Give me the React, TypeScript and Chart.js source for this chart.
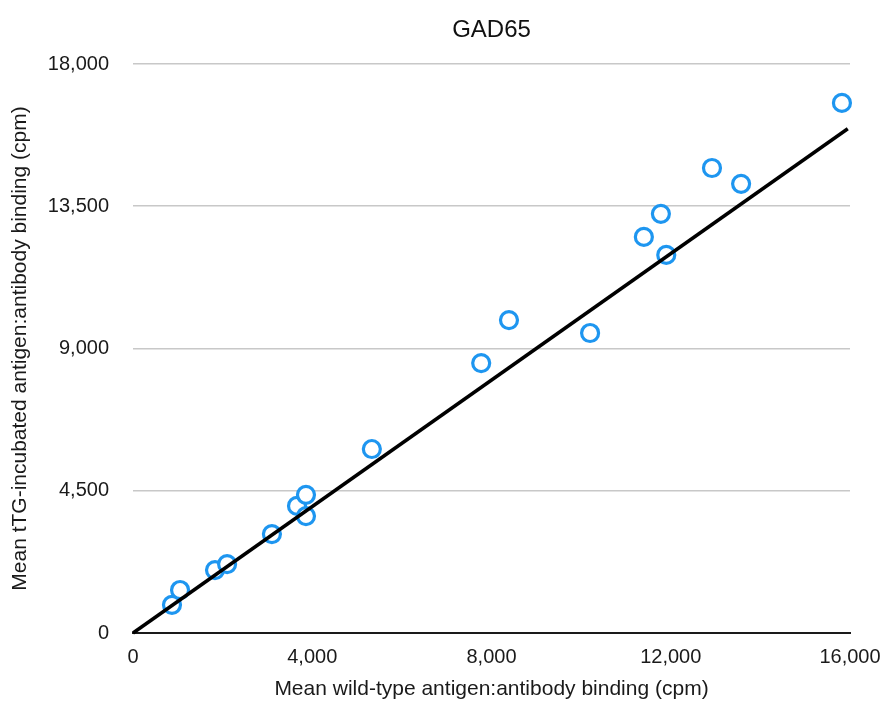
import React, { useEffect, useRef } from "react";
import { Chart, registerables } from "chart.js";

Chart.register(...registerables);

const title = "GAD65";
const xAxisTitle = "Mean wild-type antigen:antibody binding (cpm)";
const yAxisTitle = "Mean tTG-incubated antigen:antibody binding (cpm)";

const wildType = [870, 1050, 1830, 2100, 3100, 3660, 3860, 3860, 5330, 7770, 8390, 10200, 11400, 11780, 11900, 12920, 13570, 15820];
const tTGIncubated = [890, 1360, 1990, 2180, 3130, 4020, 4370, 3700, 5820, 8540, 9900, 9490, 12530, 13260, 11960, 14710, 14210, 16770];

const trendX = [0, 15950];
const trendY = [0, 15950];

const xTicks = [0, 4000, 8000, 12000, 16000];
const yTicks = [0, 4500, 9000, 13500, 18000];

const FONT = "'Liberation Sans', Arial, Helvetica, sans-serif";

export default function App() {
  const ref = useRef<HTMLCanvasElement | null>(null);

  useEffect(() => {
    if (!ref.current) return;
    const chart = new Chart(ref.current, {
      type: "scatter",
      data: {
        datasets: [
          {
            label: "Trend",
            data: trendX.map((x, i) => ({ x, y: trendY[i] })),
            showLine: true,
            borderColor: "#000000",
            borderWidth: 3.5,
            pointRadius: 0,
            fill: false,
            clip: false,
            order: 0,
          },
          {
            label: "GAD65",
            data: wildType.map((x, i) => ({ x, y: tTGIncubated[i] })),
            pointRadius: 8.5,
            pointBorderWidth: 3.2,
            pointBorderColor: "#1E96F0",
            pointBackgroundColor: "#FFFFFF",
            borderColor: "#1E96F0",
            backgroundColor: "#FFFFFF",
            clip: false,
            order: 1,
          },
        ],
      },
      options: {
        responsive: false,
        animation: false,
        layout: { padding: { left: 0, right: 31, top: 0, bottom: 0 } },
        plugins: {
          legend: { display: false },
          tooltip: { enabled: false },
          title: {
            display: true,
            text: title,
            fullSize: false,
            color: "#111111",
            font: { family: FONT, size: 24, weight: "normal" },
            padding: { top: 16, bottom: 19.2 },
          },
        },
        scales: {
          x: {
            type: "linear",
            min: 0,
            max: 16000,
            afterBuildTicks: (s: any) => {
              s.ticks = xTicks.map((v) => ({ value: v }));
            },
            afterFit: (s: any) => {
              s.height = 69;
              s.paddingLeft = 0;
              s.paddingRight = 0;
            },
            grid: { display: false, drawTicks: false },
            border: { display: true, color: "#1a1a1a", width: 2 },
            ticks: {
              padding: 12,
              color: "#1a1a1a",
              font: { family: FONT, size: 20 },
              maxRotation: 0,
              callback: (v: any) => Number(v).toLocaleString("en-US"),
            },
            title: {
              display: true,
              text: xAxisTitle,
              color: "#1a1a1a",
              font: { family: FONT, size: 21 },
              padding: { top: 0, bottom: 0 },
            },
          },
          y: {
            type: "linear",
            min: 0,
            max: 18000,
            afterBuildTicks: (s: any) => {
              s.ticks = yTicks.map((v) => ({ value: v }));
            },
            afterFit: (s: any) => {
              s.width = 133;
            },
            grid: { display: true, drawTicks: false, color: "#C8C8C8", lineWidth: 1.6 },
            border: { display: false },
            ticks: {
              padding: 24,
              color: "#1a1a1a",
              font: { family: FONT, size: 20 },
              callback: (v: any) => Number(v).toLocaleString("en-US"),
            },
            title: {
              display: true,
              text: yAxisTitle,
              color: "#1a1a1a",
              font: { family: FONT, size: 21 },
              padding: { top: 7.4, bottom: 0 },
            },
          },
        },
      },
    } as any);
    return () => chart.destroy();
  }, []);

  return (
    <div style={{ position: "fixed", left: 0, top: 0, width: 881, height: 702, background: "#ffffff" }}>
      <canvas ref={ref} width={881} height={702} style={{ display: "block" }} />
    </div>
  );
}
